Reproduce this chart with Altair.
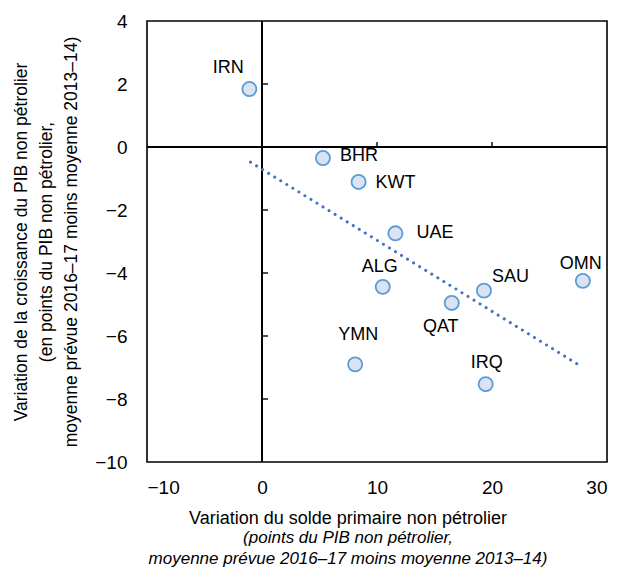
import altair as alt
import pandas as pd

countries = ["IRN", "BHR", "KWT", "UAE", "ALG", "SAU", "OMN", "QAT", "YMN", "IRQ"]
x_vals = [-1.1, 5.3, 8.4, 11.6, 10.5, 19.3, 27.9, 16.5, 8.1, 19.45]
y_vals = [1.84, -0.35, -1.11, -2.74, -4.44, -4.56, -4.25, -4.95, -6.9, -7.53]

trend_x = [-1.0, 27.6]
trend_y = [-0.48, -6.93]

x_ticks = [10, 20]
y_ticks = [-8, -6, -4, -2, 2]

# label placement (pixels): (dx, dy, align)
label_style = {
    "IRN": (-21, -21, "center"),
    "BHR": (17, -2, "left"),
    "KWT": (17, 1, "left"),
    "UAE": (21, 0, "left"),
    "ALG": (-3, -20, "center"),
    "SAU": (8, -14, "left"),
    "OMN": (-2, -17, "center"),
    "QAT": (-11, 24, "center"),
    "YMN": (3, -29, "center"),
    "IRQ": (1, -21, "center"),
}

FONT = "Liberation Sans"

pts = pd.DataFrame({"c": countries, "x": x_vals, "y": y_vals})
trend = pd.DataFrame({"x": trend_x, "y": trend_y})
xt = pd.DataFrame({"x": x_ticks})
yt = pd.DataFrame({"y": y_ticks})

xscale = alt.Scale(domain=[-10, 30], nice=False, zero=False)
yscale = alt.Scale(domain=[-10, 4], nice=False, zero=False)

xaxis = alt.Axis(values=[-10, 0, 10, 20, 30], ticks=False, domain=False, grid=False,
                 labelFontSize=19, labelFont=FONT, labelColor="black", labelPadding=16,
                 title=None)
yaxis = alt.Axis(values=[-10, -8, -6, -4, -2, 0, 2, 4], ticks=False, domain=False, grid=False,
                 labelFontSize=19, labelFont=FONT, labelColor="black", labelPadding=20,
                 title=["Variation de la croissance du PIB non pétrolier",
                        "(en points du PIB non pétrolier,",
                        "moyenne prévue 2016–17 moins moyenne 2013–14)"],
                 titleFont=FONT, titleFontSize=17.5, titleFontWeight="normal",
                 titleColor="black", titleLineHeight=25, titlePadding=14)

base = alt.Chart(pts)

zero_v = alt.Chart(pts).mark_rule(color="black", strokeWidth=1.6).encode(
    x=alt.datum(0, scale=xscale, axis=xaxis, type="quantitative"),
    y=alt.value(0), y2=alt.value(441))
zero_h = alt.Chart(pts).mark_rule(color="black", strokeWidth=1.6).encode(
    y=alt.datum(0, scale=yscale, axis=yaxis, type="quantitative"),
    x=alt.value(0), x2=alt.value(460))

xtick_layer = alt.Chart(xt).mark_rule(color="black", strokeWidth=1.4, y2Offset=-5).encode(
    x=alt.X("x:Q", scale=xscale),
    y=alt.datum(0, scale=yscale), y2=alt.datum(0))
ytick_layer = alt.Chart(yt).mark_rule(color="black", strokeWidth=1.4, x2Offset=6).encode(
    y=alt.Y("y:Q", scale=yscale),
    x=alt.datum(0, scale=xscale), x2=alt.datum(0))

trend_layer = alt.Chart(trend).mark_line(color="#4472C4", strokeWidth=3,
                                         strokeDash=[0.1, 7], strokeCap="round").encode(
    x=alt.X("x:Q", scale=xscale), y=alt.Y("y:Q", scale=yscale))

point_layer = base.mark_point(shape="circle", filled=True, fill="#DAE3F3", stroke="#5B9BD5",
                              strokeWidth=1.8, size=200, opacity=1).encode(
    x=alt.X("x:Q", scale=xscale), y=alt.Y("y:Q", scale=yscale))

label_layers = []
for c in countries:
    dx, dy, al = label_style[c]
    label_layers.append(
        base.transform_filter(alt.datum.c == c).mark_text(
            dx=dx, dy=dy, align=al, baseline="middle", font=FONT, fontSize=18, color="black"
        ).encode(x=alt.X("x:Q", scale=xscale), y=alt.Y("y:Q", scale=yscale), text="c:N")
    )

chart = alt.layer(zero_v, zero_h, xtick_layer, ytick_layer, trend_layer, point_layer,
                  *label_layers).properties(
    width=460, height=441,
    autosize=alt.AutoSizeParams(type="none"),
    padding={"left": 139, "top": 13, "right": 8, "bottom": 110},
    title=alt.TitleParams(
        text="Variation du solde primaire non pétrolier",
        subtitle=["(points du PIB non pétrolier,",
                  "moyenne prévue 2016–17 moins moyenne 2013–14)"],
        orient="bottom", anchor="middle", dx=-29, offset=13,
        font=FONT, fontSize=18, fontWeight="normal", color="black",
        subtitleFont=FONT, subtitleFontSize=17, subtitleFontStyle="italic",
        subtitleColor="black", subtitleLineHeight=21, subtitlePadding=2,
    ),
).configure_view(stroke="black", strokeWidth=1.6)

chart.save("out.html", embed_options={"renderer": "svg", "actions": False})
